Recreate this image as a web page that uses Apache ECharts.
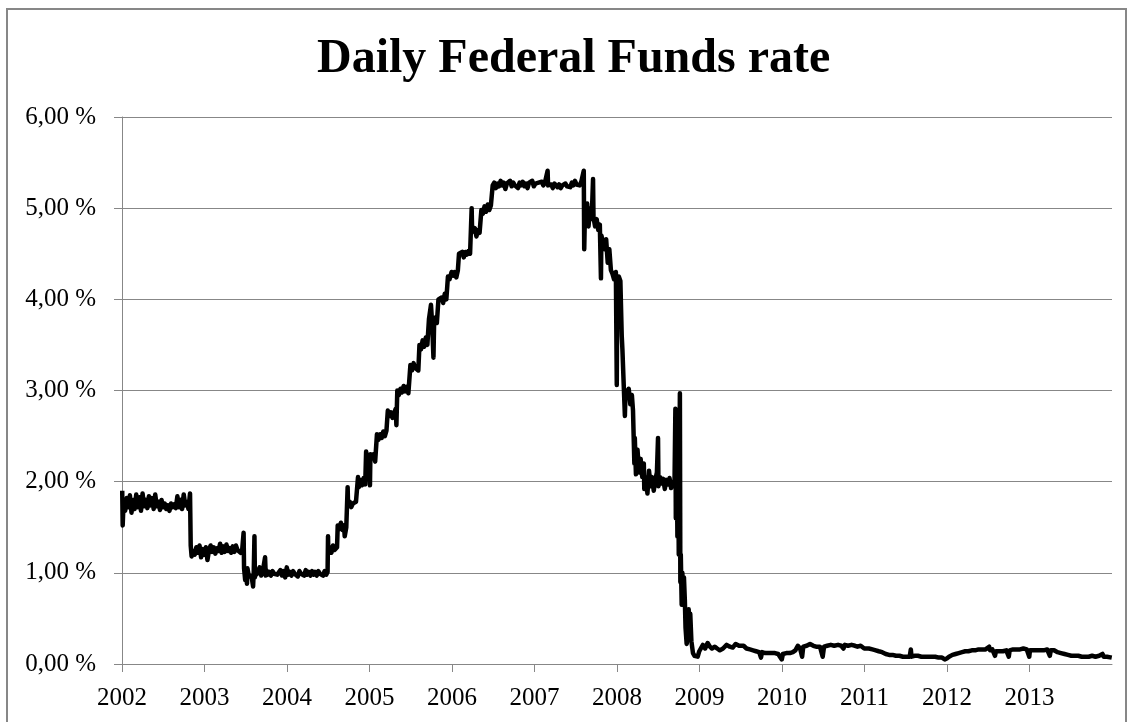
<!DOCTYPE html>
<html>
<head>
<meta charset="utf-8">
<script src="https://cdn.jsdelivr.net/npm/echarts@6/dist/echarts.min.js"></script>
<style>
html,body{margin:0;padding:0;background:#fff;}
#chart{width:1133px;height:722px;}
</style>
</head>
<body>
<div id="chart"></div>
<script>
// Daily effective Federal Funds rate (%)
const rates2002 = [
['2002-01-02',1.90],['2002-01-04',1.52],['2002-01-08',1.78],['2002-01-15',1.68],['2002-01-22',1.82],['2002-01-29',1.72],
['2002-02-05',1.85],['2002-02-12',1.66],['2002-02-19',1.80],['2002-02-26',1.70],
['2002-03-05',1.86],['2002-03-12',1.72],['2002-03-19',1.83],['2002-03-26',1.68],
['2002-04-02',1.87],['2002-04-09',1.73],['2002-04-16',1.80],['2002-04-23',1.71],['2002-04-30',1.84],
['2002-05-07',1.74],['2002-05-14',1.82],['2002-05-21',1.70],['2002-05-28',1.86],
['2002-06-04',1.73],['2002-06-11',1.78],['2002-06-18',1.69],['2002-06-25',1.80],
['2002-07-02',1.72],['2002-07-09',1.76],['2002-07-16',1.70],['2002-07-23',1.74],['2002-07-30',1.68],
['2002-08-06',1.76],['2002-08-13',1.72],['2002-08-20',1.75],['2002-08-27',1.71],
['2002-09-03',1.84],['2002-09-10',1.72],['2002-09-17',1.80],['2002-09-24',1.70],
['2002-10-01',1.86],['2002-10-08',1.74],['2002-10-15',1.78],['2002-10-22',1.70],['2002-10-29',1.87],
['2002-11-01',1.30],['2002-11-05',1.18],['2002-11-12',1.24],['2002-11-19',1.20],['2002-11-26',1.28],
['2002-12-03',1.22],['2002-12-10',1.30],['2002-12-17',1.17],['2002-12-24',1.26],['2002-12-31',1.20]
];
const rates2003 = [
['2003-01-07',1.28],['2003-01-14',1.14],['2003-01-21',1.25],['2003-01-28',1.30],
['2003-02-04',1.23],['2003-02-11',1.28],['2003-02-18',1.21],['2003-02-25',1.27],
['2003-03-04',1.24],['2003-03-11',1.32],['2003-03-18',1.22],['2003-03-25',1.29],
['2003-04-01',1.23],['2003-04-08',1.31],['2003-04-15',1.24],['2003-04-22',1.27],['2003-04-29',1.22],
['2003-05-06',1.29],['2003-05-13',1.23],['2003-05-20',1.30],['2003-05-27',1.25],
['2003-06-03',1.27],['2003-06-10',1.22],['2003-06-17',1.26],['2003-06-23',1.44],['2003-06-25',1.05],['2003-06-30',0.92],
['2003-07-03',1.02],['2003-07-08',0.88],['2003-07-10',1.05],['2003-07-15',0.98],['2003-07-22',1.00],['2003-07-29',0.95],
['2003-08-04',0.85],['2003-08-07',1.02],['2003-08-10',1.40],['2003-08-12',0.95],['2003-08-14',1.04],['2003-08-19',0.98],['2003-08-26',1.00],
['2003-09-02',1.06],['2003-09-09',0.97],['2003-09-16',1.02],['2003-09-26',1.17],['2003-09-29',0.97],
['2003-10-01',1.03],['2003-10-08',0.98],['2003-10-15',1.01],['2003-10-22',0.97],['2003-10-29',1.02],
['2003-11-05',0.99],['2003-11-12',1.01],['2003-11-19',0.98],['2003-11-26',1.00],
['2003-12-03',1.03],['2003-12-10',0.97],['2003-12-17',1.02],['2003-12-24',0.95],['2003-12-31',1.06]
];
const rates2004 = [
['2004-01-07',0.98],['2004-01-14',1.01],['2004-01-21',0.97],['2004-01-28',1.02],
['2004-02-04',0.99],['2004-02-11',1.01],['2004-02-18',0.96],['2004-02-25',1.02],
['2004-03-03',0.99],['2004-03-10',1.01],['2004-03-17',0.97],['2004-03-24',1.03],['2004-03-31',0.98],
['2004-04-07',1.01],['2004-04-14',0.97],['2004-04-21',1.02],['2004-04-28',0.98],
['2004-05-05',1.01],['2004-05-12',0.97],['2004-05-19',1.02],['2004-05-26',0.99],
['2004-06-02',1.01],['2004-06-09',0.97],['2004-06-16',1.02],['2004-06-23',0.98],['2004-06-29',1.01],
['2004-07-01',1.40],['2004-07-02',1.25],['2004-07-09',1.28],['2004-07-16',1.22],['2004-07-23',1.30],['2004-07-30',1.25],['2004-08-10',1.28],
['2004-08-13',1.52],['2004-08-20',1.48],['2004-08-27',1.55],['2004-09-03',1.47],['2004-09-10',1.52],['2004-09-13',1.40],['2004-09-20',1.50],
['2004-09-26',1.94],['2004-09-28',1.75],['2004-10-05',1.78],['2004-10-12',1.72],['2004-10-19',1.76],['2004-10-26',1.74],['2004-11-02',1.78],['2004-11-08',1.80],
['2004-11-11',2.05],['2004-11-15',1.94],['2004-11-22',2.02],['2004-11-29',1.96],['2004-12-06',2.04],['2004-12-13',1.97],
['2004-12-17',2.33],['2004-12-22',2.20],['2004-12-30',2.28]
];
const rates2005 = [
['2005-01-03',1.96],['2005-01-05',2.30],['2005-01-12',2.26],['2005-01-19',2.30],['2005-01-26',2.22],
['2005-02-03',2.52],['2005-02-10',2.46],['2005-02-17',2.52],['2005-02-24',2.48],
['2005-03-03',2.55],['2005-03-10',2.50],['2005-03-17',2.56],['2005-03-23',2.78],['2005-03-30',2.72],
['2005-04-06',2.76],['2005-04-13',2.70],['2005-04-20',2.75],['2005-04-27',2.80],['2005-04-30',2.62],
['2005-05-04',3.00],['2005-05-11',2.95],['2005-05-18',3.02],['2005-05-25',2.98],
['2005-06-01',3.05],['2005-06-08',2.99],['2005-06-15',3.04],['2005-06-22',2.97],
['2005-07-01',3.28],['2005-07-08',3.22],['2005-07-15',3.30],['2005-07-22',3.25],['2005-07-29',3.27],
['2005-08-05',3.22],['2005-08-10',3.50],['2005-08-17',3.45],['2005-08-24',3.55],['2005-08-31',3.48],
['2005-09-07',3.58],['2005-09-14',3.50],['2005-09-21',3.78],['2005-09-30',3.94],
['2005-10-05',3.74],['2005-10-11',3.36],['2005-10-14',3.76],['2005-10-19',3.80],['2005-10-26',3.74],
['2005-11-02',4.00],['2005-11-09',3.98],['2005-11-16',4.02],['2005-11-23',3.96],['2005-11-30',4.06],
['2005-12-07',4.00],['2005-12-14',4.25],['2005-12-21',4.22],['2005-12-30',4.30]
];
const rates2006 = [
['2006-01-06',4.26],['2006-01-13',4.30],['2006-01-20',4.24],['2006-01-27',4.32],
['2006-02-01',4.50],['2006-02-08',4.48],['2006-02-15',4.52],['2006-02-22',4.46],
['2006-03-01',4.52],['2006-03-08',4.49],['2006-03-15',4.53],['2006-03-22',4.50],
['2006-03-29',5.00],['2006-03-31',4.74],['2006-04-05',4.72],['2006-04-12',4.78],['2006-04-19',4.69],['2006-04-26',4.76],['2006-05-03',4.73],
['2006-05-11',4.98],['2006-05-18',4.94],['2006-05-25',5.02],['2006-06-01',4.96],['2006-06-08',5.04],['2006-06-15',4.98],['2006-06-22',5.03],
['2006-06-30',5.25],['2006-07-07',5.28],['2006-07-14',5.22],['2006-07-21',5.27],['2006-07-28',5.24],
['2006-08-04',5.30],['2006-08-11',5.25],['2006-08-18',5.28],['2006-08-25',5.21],
['2006-09-01',5.27],['2006-09-08',5.25],['2006-09-15',5.30],['2006-09-22',5.24],['2006-09-29',5.28],
['2006-10-06',5.25],['2006-10-13',5.27],['2006-10-20',5.22],['2006-10-27',5.28],
['2006-11-03',5.25],['2006-11-10',5.29],['2006-11-17',5.24],['2006-11-24',5.27],
['2006-12-01',5.22],['2006-12-08',5.28],['2006-12-15',5.26],['2006-12-22',5.30],['2006-12-29',5.24]
];
const rates2007 = [
['2007-01-05',5.27],['2007-01-12',5.25],['2007-01-19',5.28],['2007-01-26',5.26],
['2007-02-02',5.29],['2007-02-09',5.25],['2007-02-16',5.28],['2007-02-28',5.41],['2007-03-02',5.25],
['2007-03-09',5.24],['2007-03-16',5.26],['2007-03-23',5.22],['2007-03-30',5.27],
['2007-04-06',5.25],['2007-04-13',5.23],['2007-04-20',5.26],['2007-04-27',5.22],
['2007-05-04',5.25],['2007-05-11',5.23],['2007-05-18',5.27],['2007-05-25',5.24],
['2007-06-01',5.26],['2007-06-08',5.23],['2007-06-15',5.28],['2007-06-22',5.25],['2007-06-29',5.30],
['2007-07-06',5.26],['2007-07-13',5.28],['2007-07-20',5.25],['2007-07-27',5.29],
['2007-08-03',5.27],['2007-08-07',5.41],['2007-08-09',4.55],['2007-08-13',5.05],['2007-08-17',4.85],
['2007-08-22',5.05],['2007-08-28',4.80],['2007-09-04',5.00],['2007-09-11',4.88],['2007-09-17',5.32],
['2007-09-19',4.90],['2007-09-26',4.80],['2007-10-03',4.88],['2007-10-10',4.76],['2007-10-17',4.82],
['2007-10-22',4.23],['2007-10-24',4.70],['2007-10-31',4.62],['2007-11-07',4.55],['2007-11-14',4.66],
['2007-11-21',4.40],['2007-11-28',4.55],['2007-12-05',4.32],['2007-12-12',4.28],['2007-12-19',4.22],
['2007-12-27',4.30],['2007-12-31',3.06]
];
const rates2008 = [
['2008-01-02',4.10],['2008-01-09',4.25],['2008-01-16',4.20],['2008-01-22',3.60],['2008-01-25',3.45],
['2008-01-31',3.05],['2008-02-05',2.72],['2008-02-08',3.00],['2008-02-15',2.92],['2008-02-22',3.02],
['2008-02-29',2.85],['2008-03-07',2.95],['2008-03-12',2.78],['2008-03-18',2.20],['2008-03-20',2.48],
['2008-03-25',2.08],['2008-04-01',2.35],['2008-04-08',2.10],['2008-04-15',2.25],['2008-04-22',2.05],
['2008-04-29',2.20],['2008-05-01',1.92],['2008-05-08',2.05],['2008-05-15',1.87],['2008-05-22',2.12],
['2008-05-29',1.95],['2008-06-05',2.05],['2008-06-12',1.90],['2008-06-19',2.02],['2008-06-26',2.10],
['2008-07-01',2.48],['2008-07-03',1.95],['2008-07-10',2.05],['2008-07-17',1.98],['2008-07-24',2.03],
['2008-07-31',1.92],['2008-08-07',2.02],['2008-08-14',1.97],['2008-08-21',2.04],['2008-08-28',1.93],
['2008-09-04',2.00],['2008-09-12',1.95],['2008-09-16',2.80],['2008-09-18',1.60],['2008-09-22',2.30],
['2008-09-25',1.40],['2008-09-29',2.00],['2008-10-01',1.20],['2008-10-06',2.97],['2008-10-08',0.90],
['2008-10-10',1.20],['2008-10-14',0.65],['2008-10-17',1.00],['2008-10-21',0.75],['2008-10-24',0.95],
['2008-10-28',0.70],['2008-10-31',0.40],['2008-11-05',0.22],['2008-11-10',0.30],['2008-11-14',0.60],
['2008-11-18',0.30],['2008-11-21',0.55],['2008-11-26',0.25],['2008-12-03',0.12],['2008-12-10',0.09],
['2008-12-17',0.10],['2008-12-24',0.08],['2008-12-31',0.14]
];
const rates2009 = [
['2009-01-05',0.15],['2009-01-16',0.21],['2009-01-26',0.17],['2009-02-06',0.23],['2009-02-16',0.19],
['2009-02-25',0.17],['2009-03-10',0.19],['2009-03-20',0.17],['2009-04-01',0.15],['2009-04-15',0.17],
['2009-05-01',0.21],['2009-05-15',0.19],['2009-05-28',0.18],['2009-06-10',0.22],['2009-06-15',0.24],
['2009-06-25',0.20],['2009-07-03',0.18],['2009-07-15',0.20],['2009-07-28',0.17],['2009-08-12',0.16],
['2009-08-26',0.15],['2009-09-08',0.14],['2009-09-22',0.13],['2009-09-30',0.07],['2009-10-05',0.13],
['2009-10-19',0.12],['2009-11-02',0.12],['2009-11-16',0.12],['2009-12-01',0.12],['2009-12-15',0.11],
['2009-12-31',0.05]
];
const rates2010 = [
['2010-01-05',0.11],['2010-01-20',0.12],['2010-02-05',0.12],['2010-02-18',0.13],['2010-03-01',0.15],
['2010-03-12',0.20],['2010-03-22',0.17],['2010-03-31',0.08],['2010-04-05',0.19],['2010-04-20',0.20],
['2010-05-05',0.22],['2010-05-20',0.20],['2010-06-01',0.19],['2010-06-18',0.19],['2010-06-30',0.08],
['2010-07-06',0.19],['2010-07-20',0.20],['2010-08-05',0.21],['2010-08-20',0.20],['2010-09-06',0.21],
['2010-09-20',0.20],['2010-09-30',0.17],['2010-10-06',0.21],['2010-10-20',0.20],['2010-11-05',0.21],
['2010-11-20',0.20],['2010-12-01',0.19],['2010-12-15',0.20],['2010-12-31',0.17]
];
const rates2011 = [
['2011-01-05',0.19],['2011-01-20',0.17],['2011-02-05',0.16],['2011-02-20',0.15],['2011-03-05',0.14],
['2011-03-20',0.13],['2011-04-05',0.11],['2011-04-20',0.10],['2011-05-05',0.10],['2011-05-20',0.09],
['2011-06-05',0.09],['2011-06-20',0.08],['2011-07-05',0.08],['2011-07-20',0.08],['2011-07-25',0.16],
['2011-07-28',0.08],['2011-08-10',0.09],['2011-08-25',0.09],['2011-09-10',0.08],['2011-09-25',0.08],
['2011-10-10',0.08],['2011-10-25',0.08],['2011-11-10',0.08],['2011-11-25',0.07],['2011-12-10',0.07],
['2011-12-22',0.05],['2011-12-31',0.06]
];
const rates2012 = [
['2012-01-10',0.08],['2012-01-25',0.10],['2012-02-08',0.11],['2012-02-22',0.12],['2012-03-08',0.13],
['2012-03-22',0.14],['2012-04-05',0.14],['2012-04-20',0.15],['2012-05-05',0.15],['2012-05-20',0.16],
['2012-06-05',0.16],['2012-06-20',0.16],['2012-07-06',0.19],['2012-07-10',0.15],['2012-07-20',0.16],
['2012-08-01',0.09],['2012-08-05',0.14],['2012-08-20',0.14],['2012-09-05',0.14],['2012-09-20',0.15],
['2012-10-01',0.08],['2012-10-05',0.15],['2012-10-20',0.16],['2012-11-05',0.16],['2012-11-20',0.16],
['2012-12-05',0.17],['2012-12-20',0.16],['2012-12-31',0.08]
];
const rates2013 = [
['2013-01-03',0.15],['2013-01-20',0.15],['2013-02-05',0.15],['2013-02-20',0.15],['2013-03-05',0.15],
['2013-03-20',0.16],['2013-04-01',0.09],['2013-04-05',0.15],['2013-04-20',0.15],['2013-05-05',0.13],
['2013-05-20',0.12],['2013-06-05',0.11],['2013-06-20',0.10],['2013-07-05',0.09],['2013-07-20',0.09],
['2013-08-05',0.09],['2013-08-20',0.08],['2013-09-05',0.08],['2013-09-20',0.08],['2013-10-05',0.09],
['2013-10-20',0.08],['2013-11-05',0.09],['2013-11-20',0.11],['2013-11-25',0.08],['2013-12-10',0.08],
['2013-12-31',0.07]
];
const yearTicks = [2002,2003,2004,2005,2006,2007,2008,2009,2010,2011,2012,2013,2014];
const chartTitle = 'Daily Federal Funds rate';

function toYear(s){
  const d = Date.parse(s + 'T00:00:00Z');
  const y = new Date(d).getUTCFullYear();
  const a = Date.UTC(y,0,1), b = Date.UTC(y+1,0,1);
  return y + (d - a) / (b - a);
}
const all = [].concat(rates2002,rates2003,rates2004,rates2005,rates2006,rates2007,
  rates2008,rates2009,rates2010,rates2011,rates2012,rates2013);
const seriesData = all.map(p => [toYear(p[0]), p[1]]);

const serif = "'Liberation Serif','Times New Roman',serif";
const gray = '#878787';
const chart = echarts.init(document.getElementById('chart'), null, {renderer:'canvas'});
chart.setOption({
  animation:false,
  backgroundColor:'#fff',
  title:{
    text:chartTitle, left:312, top:31,
    textStyle:{fontFamily:serif, fontSize:48, fontWeight:'bold', color:'#000'}
  },
  graphic:[{
    type:'rect', silent:true,
    shape:{x:7, y:9, width:1119, height:740},
    style:{fill:'none', stroke:gray, lineWidth:2}
  }],
  grid:{left:122, right:21, top:117, bottom:58, containLabel:false},
  xAxis:{
    type:'value', min:yearTicks[0], max:yearTicks[yearTicks.length-1], interval:1,
    axisLine:{show:true, lineStyle:{color:gray, width:1}},
    axisTick:{show:true, inside:false, length:8, lineStyle:{color:gray}},
    splitLine:{show:false},
    axisLabel:{show:true, margin:22, color:'#000', fontFamily:serif, fontSize:25,
      showMaxLabel:false, formatter:v => String(v)}
  },
  yAxis:{
    type:'value', min:0, max:6, interval:1,
    axisLine:{show:true, lineStyle:{color:gray, width:1}},
    axisTick:{show:true, inside:false, length:8, lineStyle:{color:gray}},
    splitLine:{show:true, lineStyle:{color:gray, width:1}},
    axisLabel:{margin:26, color:'#000', fontFamily:serif, fontSize:25,
      formatter:v => v.toFixed(2).replace('.', ',') + ' %'}
  },
  series:[{
    type:'line', data:seriesData, showSymbol:false, symbol:'none',
    lineStyle:{color:'#000', width:4.5, join:'round'},
    emphasis:{disabled:true}
  }]
});
</script>
</body>
</html>
